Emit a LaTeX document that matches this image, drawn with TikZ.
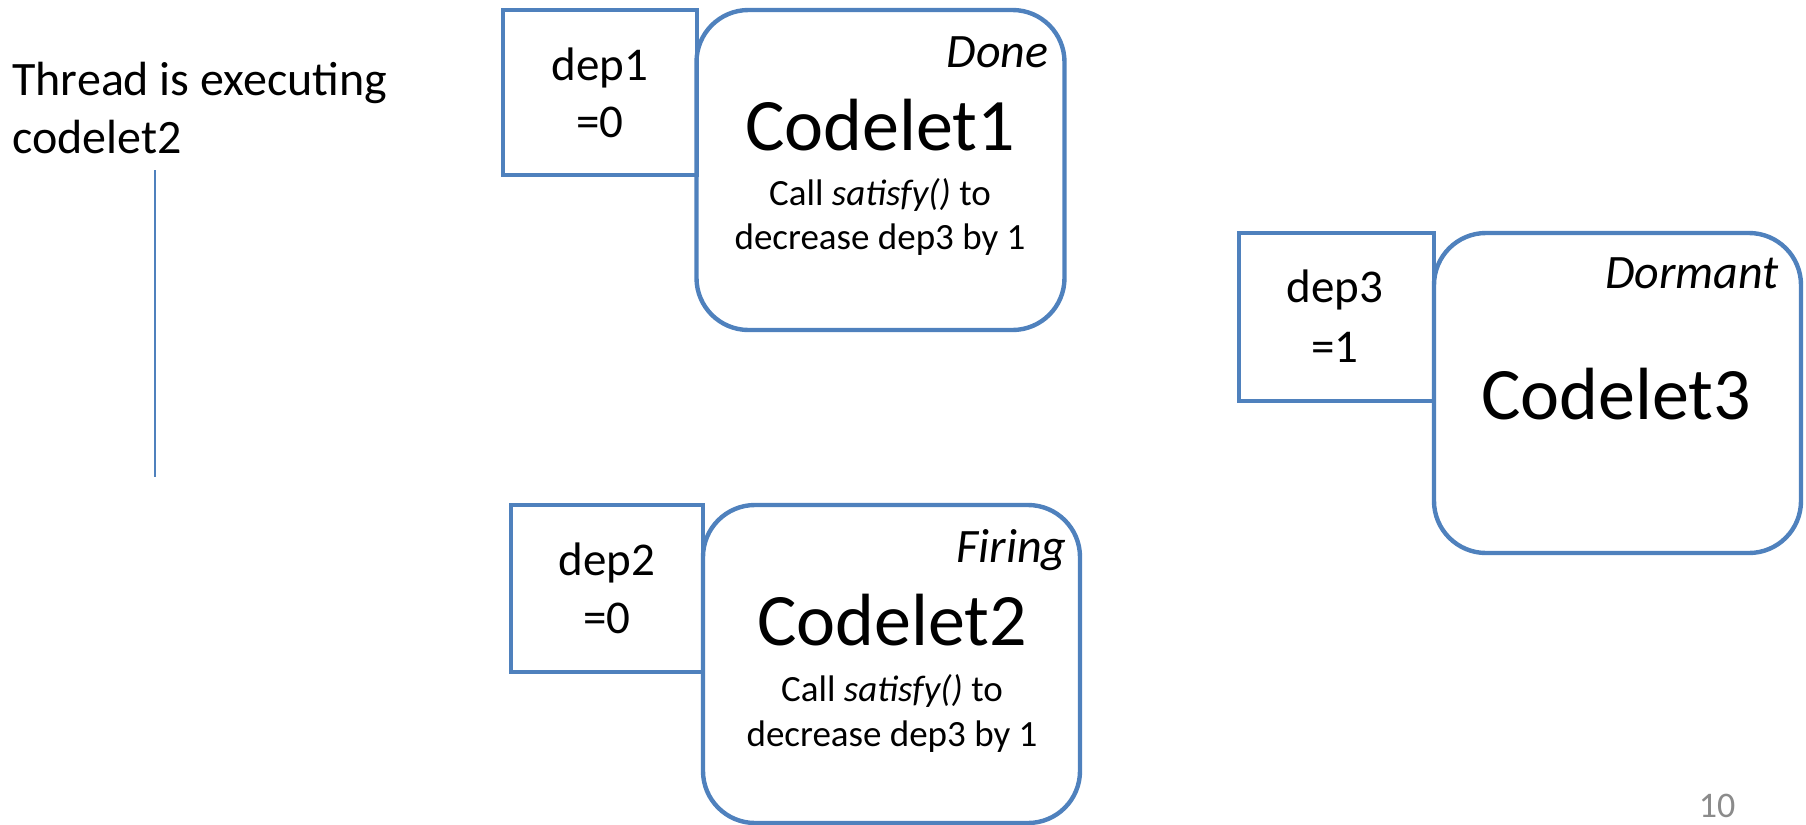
\documentclass[tikz,border=0pt]{standalone}
\usepackage{fontspec}
\setmainfont{Carlito}
\definecolor{obl}{HTML}{4F81BD}
\definecolor{pgray}{HTML}{8B8B8B}
\begin{document}
\begin{tikzpicture}[x=0.5pt,y=-0.5pt,
  depbox/.style={draw=obl,line width=2.2pt,minimum width=97pt,minimum height=83pt,inner sep=0pt},
  codebox/.style={draw=obl,line width=2.2pt,rounded corners=26pt,minimum width=185pt,minimum height=160pt,inner sep=0pt},
  big/.style={font=\fontsize{37}{40}\selectfont,inner sep=0pt},
  state/.style={font=\fontsize{24}{28}\itshape\selectfont,inner sep=0pt},
  small/.style={font=\fontsize{18.5}{22}\selectfont,inner sep=0pt},
  dep/.style={font=\fontsize{23.5}{28}\selectfont,inner sep=0pt},
  lbl/.style={font=\fontsize{24}{28}\selectfont,inner sep=0pt}]
\useasboundingbox (0,0) rectangle (1806,825);
% Codelet1
\node[depbox,minimum height=82.5pt] (d1) at (600,92.5) {};
\node[codebox,minimum width=184pt] (c1) at (880.5,170) {};
\node[state,anchor=base east] (s1) at (1049,67) {Done};
\node[big,anchor=base] (n1) at (880,150) {Codelet1};
\node[small,anchor=base] (a1) at (880,205) {Call \textit{satisfy()} to};
\node[small,anchor=base] (b1) at (880,249) {decrease dep3 by 1};
\node[dep,anchor=base] (p1) at (600,80) {dep1};
\node[dep,anchor=base] (q1) at (600,137) {=0};
% Codelet2
\node[depbox,minimum width=96pt,minimum height=83.5pt] (d2) at (607,588.5) {};
\node[codebox,minimum width=188.5pt,minimum height=159pt] (c2) at (891.5,664) {};
\node[state,anchor=base east] (s2) at (1067,562) {Firing};
\node[big,anchor=base] (n2) at (892,645) {Codelet2};
\node[small,anchor=base] (a2) at (892,701) {Call \textit{satisfy()} to};
\node[small,anchor=base] (b2) at (892,746) {decrease dep3 by 1};
\node[dep,anchor=base] (p2) at (607,575) {dep2};
\node[dep,anchor=base] (q2) at (607,633) {=0};
% Codelet3
\node[depbox,minimum width=97.5pt,minimum height=84pt] (d3) at (1336.5,317) {};
\node[codebox,minimum width=183.5pt] (c3) at (1617.5,393) {};
\node[state,anchor=base east] (s3) at (1779,288) {Dormant};
\node[big,anchor=base] (n3) at (1616,419) {Codelet3};
\node[dep,anchor=base] (p3) at (1335,302) {dep3};
\node[dep,anchor=base] (q3) at (1335,362) {=1};
% thread label
\node[lbl,anchor=base west] (t1) at (12,95) {Thread is executing};
\node[lbl,anchor=base west] (t2) at (12,153) {codelet2};
\coordinate (ts) at (155,170);
\coordinate (te) at (155,477);
\draw[obl,line width=0.75pt] (ts) -- (te);
% page number
\node[font=\fontsize{18}{21}\selectfont,text=pgray,anchor=base,inner sep=0pt] (pg) at (1717,817) {10};
\end{tikzpicture}
\end{document}
